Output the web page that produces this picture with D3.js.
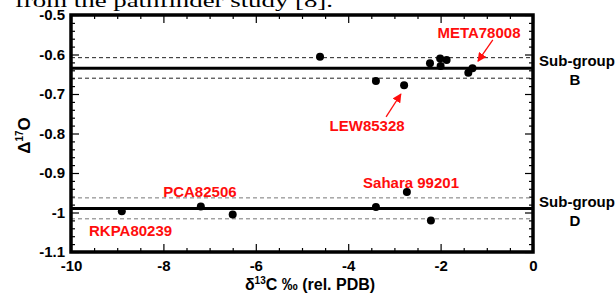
<!DOCTYPE html>
<html>
<head>
<meta charset="utf-8">
<script src="https://cdn.jsdelivr.net/npm/d3@7"></script>
<style>
  body { margin: 0; background: #fff; }
  svg { display: block; }
  text { font-family: "Liberation Sans", Arial, sans-serif; font-weight: bold; }
</style>
</head>
<body>
<div id="chart"></div>
<script>
// measured points (d13C, D17O)
const sampleX = [-4.61, -3.40, -2.79, -2.23, -2.01, -2.00, -1.87, -1.40, -1.31,
                 -8.90, -7.19, -6.50, -3.40, -2.73, -2.21];
const sampleY = [-0.606, -0.667, -0.678, -0.622, -0.610, -0.629, -0.614, -0.646, -0.635,
                 -0.997, -0.985, -1.005, -0.986, -0.948, -1.020];

// sub-group mean lines and +/- bands
const groupNames = ["B", "D"];
const groupMean = [-0.635, -0.990];
const groupLow = [-0.660, -1.016];
const groupHigh = [-0.608, -0.963];
const groupDashColor = ["#222", "#777"];

// labelled meteorites
const labelNames = ["META78008", "LEW85328", "PCA82506", "RKPA80239", "Sahara 99201"];
const labelX = [-1.17, -3.59, -7.21, -8.71, -2.64];
const labelY = [-0.558, -0.794, -0.961, -1.059, -0.938];

// arrows tail -> head
const arrowFrom = [[-0.87, -0.563], [-3.18, -0.758]];
const arrowTo = [[-1.19, -0.617], [-2.86, -0.700]];

const xMajor = [-10, -8, -6, -4, -2, 0];
const yMajor = [-1.1, -1.0, -0.9, -0.8, -0.7, -0.6, -0.5];

const width = 616, height = 295;
const margin = { top: 15, right: 83, bottom: 43, left: 71 };
const innerW = width - margin.left - margin.right;
const innerH = height - margin.top - margin.bottom;
const red = "#ff0d0d";

const svg = d3.select("#chart").append("svg")
    .attr("width", width)
    .attr("height", height);

// cut-off line of the surrounding document
svg.append("text")
    .attr("x", 15)
    .attr("y", 7)
    .attr("textLength", 318)
    .attr("lengthAdjust", "spacingAndGlyphs")
    .style("font-family", "'Liberation Serif', 'Times New Roman', serif")
    .style("font-weight", "normal")
    .style("font-size", "18px")
    .text("from the pathfinder study [8].");

const g = svg.append("g")
    .attr("transform", `translate(${margin.left},${margin.top})`);

const x = d3.scaleLinear().domain([-10, 0]).range([0, innerW]);
const y = d3.scaleLinear().domain([-1.1, -0.5]).range([innerH, 0]);

const fmt = d => String(+d.toFixed(1));
const xMinor = d3.range(-10, 0.01, 0.5).filter(v => !xMajor.includes(v));
const yMinor = d3.range(-1.1, -0.499, 0.02).map(v => +v.toFixed(2))
    .filter(v => !yMajor.some(m => Math.abs(m - v) < 1e-6));

function styleAxis(sel) {
    sel.select(".domain").remove();
    sel.selectAll("line").attr("stroke", "#000").attr("stroke-width", 1.2);
    sel.selectAll("text").style("font-size", "15px").attr("fill", "#000");
}

// minor ticks
g.append("g").attr("transform", `translate(0,${innerH})`)
    .call(d3.axisBottom(x).tickValues(xMinor).tickSize(-4).tickFormat(""))
    .call(styleAxis);
g.append("g")
    .call(d3.axisTop(x).tickValues(xMinor).tickSize(-4).tickFormat(""))
    .call(styleAxis);
g.append("g")
    .call(d3.axisLeft(y).tickValues(yMinor).tickSize(-4).tickFormat(""))
    .call(styleAxis);
g.append("g").attr("transform", `translate(${innerW},0)`)
    .call(d3.axisRight(y).tickValues(yMinor).tickSize(-4).tickFormat(""))
    .call(styleAxis);

// major ticks
g.append("g").attr("transform", `translate(0,${innerH})`)
    .call(d3.axisBottom(x).tickValues(xMajor).tickSize(-8).tickPadding(8).tickFormat(fmt))
    .call(styleAxis);
g.append("g")
    .call(d3.axisTop(x).tickValues(xMajor).tickSize(-8).tickFormat(""))
    .call(styleAxis);
g.append("g")
    .call(d3.axisLeft(y).tickValues(yMajor).tickSize(-8).tickPadding(6).tickFormat(fmt))
    .call(styleAxis);
g.append("g").attr("transform", `translate(${innerW},0)`)
    .call(d3.axisRight(y).tickValues(yMajor).tickSize(-8).tickFormat(""))
    .call(styleAxis);

// sub-group lines
groupNames.forEach((name, i) => {
    [groupLow[i], groupHigh[i]].forEach(v => {
        g.append("line")
            .attr("x1", 0).attr("x2", innerW)
            .attr("y1", y(v)).attr("y2", y(v))
            .attr("stroke", groupDashColor[i])
            .attr("stroke-width", 1)
            .attr("stroke-dasharray", "4,3");
    });
    g.append("line")
        .attr("x1", 0).attr("x2", innerW)
        .attr("y1", y(groupMean[i])).attr("y2", y(groupMean[i]))
        .attr("stroke", "#000")
        .attr("stroke-width", 3);

    const lbl = g.append("text")
        .attr("x", innerW + 44)
        .attr("text-anchor", "middle")
        .style("font-size", "15px");
    lbl.append("tspan").attr("x", innerW + 44).attr("y", y(groupMean[i]) - 2).text("Sub-group");
    lbl.append("tspan").attr("x", innerW + 42).attr("y", y(groupMean[i]) + 17).text(name);
});

// frame
g.append("rect")
    .attr("width", innerW)
    .attr("height", innerH)
    .attr("fill", "none")
    .attr("stroke", "#000")
    .attr("stroke-width", 3.5);

// points
g.selectAll(".pt")
    .data(sampleX.map((v, i) => [v, sampleY[i]]))
    .enter().append("circle")
    .attr("class", "pt")
    .attr("cx", d => x(d[0]))
    .attr("cy", d => y(d[1]))
    .attr("r", 4)
    .attr("fill", "#000");

// red labels
g.selectAll(".lbl")
    .data(labelNames)
    .enter().append("text")
    .attr("class", "lbl")
    .attr("x", (d, i) => x(labelX[i]))
    .attr("y", (d, i) => y(labelY[i]))
    .attr("text-anchor", "middle")
    .attr("fill", red)
    .style("font-size", "15px")
    .text(d => d);

// arrows
svg.append("defs").append("marker")
    .attr("id", "arr")
    .attr("viewBox", "0 0 10 10")
    .attr("refX", 9).attr("refY", 5)
    .attr("markerWidth", 7).attr("markerHeight", 7)
    .attr("orient", "auto")
    .append("path")
    .attr("d", "M0,0 L10,5 L0,10 z")
    .attr("fill", red);

arrowFrom.forEach((a, i) => {
    g.append("line")
        .attr("x1", x(a[0])).attr("y1", y(a[1]))
        .attr("x2", x(arrowTo[i][0])).attr("y2", y(arrowTo[i][1]))
        .attr("stroke", red)
        .attr("stroke-width", 1.3)
        .attr("marker-end", "url(#arr)");
});

// axis titles
const xt = svg.append("text")
    .attr("x", margin.left + innerW / 2 + 8)
    .attr("y", 290)
    .attr("text-anchor", "middle")
    .style("font-size", "16px");
xt.append("tspan").text("δ");
xt.append("tspan").attr("dy", -6).style("font-size", "10px").text("13");
xt.append("tspan").attr("dy", 6).text("C ‰ (rel. PDB)");

const yt = svg.append("text")
    .attr("transform", `translate(30,${margin.top + innerH / 2 + 2}) rotate(-90)`)
    .attr("text-anchor", "middle")
    .style("font-size", "17px");
yt.append("tspan").text("Δ");
yt.append("tspan").attr("dy", -7).style("font-size", "10px").text("17");
yt.append("tspan").attr("dy", 7).text("O");
</script>
</body>
</html>
